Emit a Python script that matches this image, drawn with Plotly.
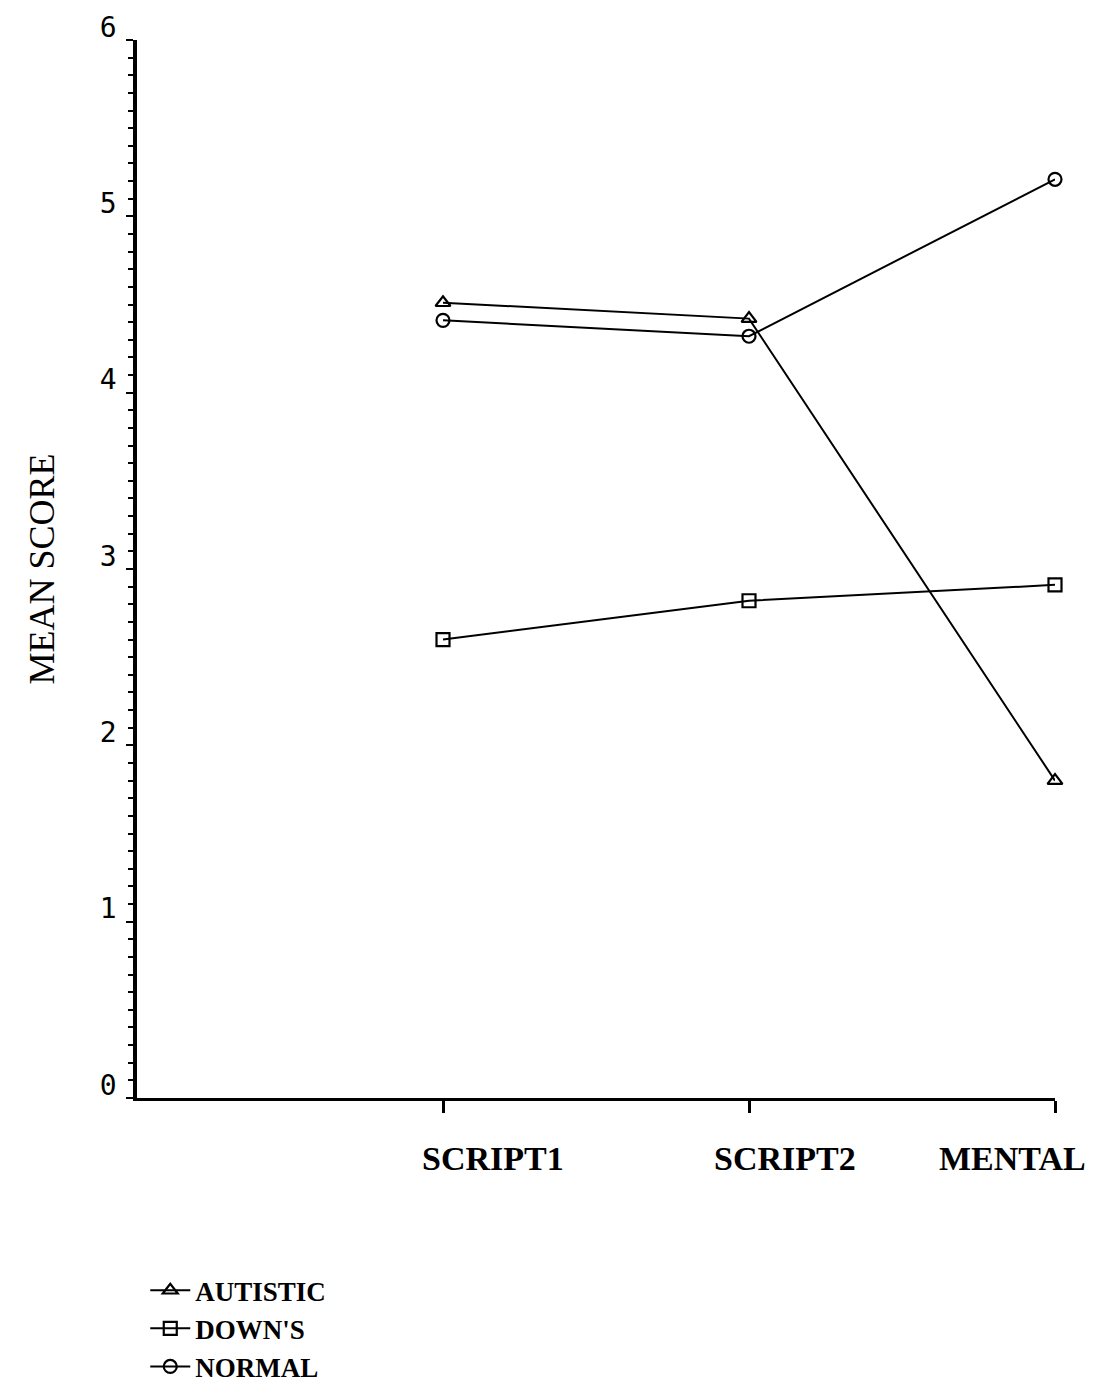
import plotly.graph_objects as go

categories = ["SCRIPT1", "SCRIPT2", "MENTAL"]
cat_pos = [1, 2, 3]
label_shift = [50, 36, -43]
autistic = [4.51, 4.42, 1.80]
downs = [2.60, 2.82, 2.91]
normal = [4.41, 4.32, 5.21]

serif = "Liberation Serif, DejaVu Serif, serif"
mono = "DejaVu Sans Mono, monospace"

fig = go.Figure()
series = [("AUTISTIC", autistic, "triangle-up-open"),
          ("DOWN'S", downs, "square-open"),
          ("NORMAL", normal, "circle-open")]
for name, vals, sym in series:
    fig.add_trace(go.Scatter(
        x=cat_pos, y=vals, name=name, mode="lines+markers",
        line=dict(color="black", width=2),
        marker=dict(symbol=sym, size=13, color="black", line=dict(color="black", width=2.2)),
        cliponaxis=False,
    ))

for pos, txt, sh in zip(cat_pos, categories, label_shift):
    fig.add_annotation(x=pos, y=0, xref="x", yref="y", text=txt, showarrow=False,
                       xanchor="center", yanchor="top", xshift=sh, yshift=-40,
                       font=dict(family=serif, size=34, color="black", weight="bold"))

fig.update_layout(
    width=1087, height=1384,
    margin=dict(l=129, r=40, t=32, b=294, autoexpand=False),
    plot_bgcolor="white", paper_bgcolor="white",
    showlegend=True,
    legend=dict(x=0.009, y=-0.159, xanchor="left", yanchor="top",
                font=dict(family=serif, size=27, color="black", weight="bold"),
                bgcolor="rgba(0,0,0,0)", tracegroupgap=0, itemwidth=40),
    font=dict(color="black"),
)
fig.update_xaxes(
    range=[0, 3], tickvals=cat_pos, ticktext=["", "", ""],
    showgrid=False, zeroline=False, automargin=False,
    showline=True, linecolor="black", linewidth=3,
    ticks="outside", ticklen=12, tickwidth=3, tickcolor="black",
)
fig.update_yaxes(
    range=[0, 6], tick0=0, dtick=1,
    showgrid=False, zeroline=False, automargin=False,
    showline=True, linecolor="black", linewidth=3.5,
    ticks="outside", ticklen=7, tickwidth=2, tickcolor="black",
    tickfont=dict(family=mono, size=28, color="black"),
    ticklabelstandoff=4, ticklabelshift=-13,
    minor=dict(dtick=0.1, ticks="outside", ticklen=5, tickwidth=2, tickcolor="black", showgrid=False),
    title=dict(text="MEAN SCORE", font=dict(family=serif, size=36, color="black"), standoff=35),
)

fig.write_html("out.html")
